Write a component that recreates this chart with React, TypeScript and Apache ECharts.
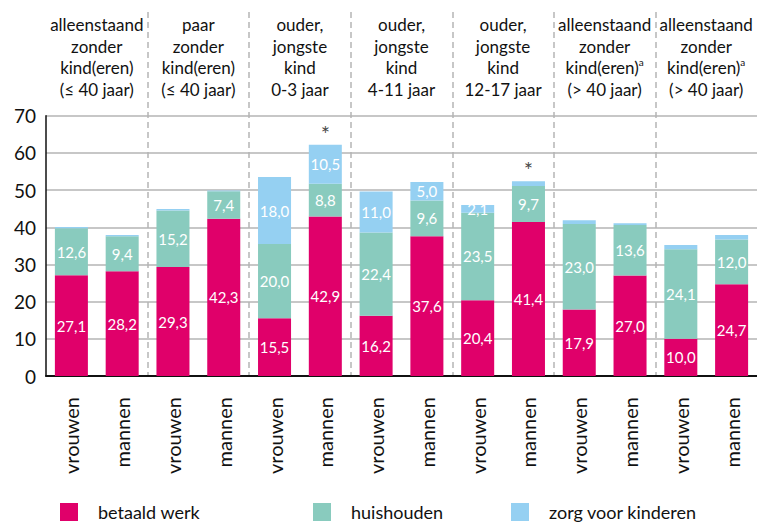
import React, { useEffect, useRef } from "react";
import * as echarts from "echarts";

const groupLabels = [
  "alleenstaand\nzonder\nkind(eren)\n(≤ 40 jaar)",
  "paar\nzonder\nkind(eren)\n(≤ 40 jaar)",
  "ouder,\njongste\nkind\n0-3 jaar",
  "ouder,\njongste\nkind\n4-11 jaar",
  "ouder,\njongste\nkind\n12-17 jaar",
  "alleenstaand\nzonder\nkind(eren)^a\n(> 40 jaar)",
  "alleenstaand\nzonder\nkind(eren)^a\n(> 40 jaar)",
];
const categories = [
  "vrouwen", "mannen", "vrouwen", "mannen", "vrouwen", "mannen", "vrouwen",
  "mannen", "vrouwen", "mannen", "vrouwen", "mannen", "vrouwen", "mannen",
];
const betaaldWerk = [27.1, 28.2, 29.3, 42.3, 15.5, 42.9, 16.2, 37.6, 20.4, 41.4, 17.9, 27.0, 10.0, 24.7];
const huishouden = [12.6, 9.4, 15.2, 7.4, 20.0, 8.8, 22.4, 9.6, 23.5, 9.7, 23.0, 13.6, 24.1, 12.0];
const zorgKinderen = [0.4, 0.3, 0.4, 0.2, 18.0, 10.5, 11.0, 5.0, 2.1, 1.3, 1.0, 0.5, 1.1, 1.2];
const significant = [false, false, false, false, false, true, false, false, false, true, false, false, false, false];
const yTicks = { min: 0, max: 70, interval: 10 };

const FONT = "Lato";
const fmt = (v: number) => v.toFixed(1).replace(".", ",");

export default function App() {
  const ref = useRef<HTMLDivElement>(null);
  useEffect(() => {
    if (!ref.current) return;
    const chart = echarts.init(ref.current, null, { renderer: "svg" });
    const totals = betaaldWerk.map((v, i) => v + huishouden[i] + zorgKinderen[i]);
    const barLabel = {
      show: true,
      position: "inside",
      color: "#ffffff",
      fontFamily: FONT,
      fontSize: 15,
      formatter: (p: any) => (p.value >= 2 ? fmt(p.value) : ""),
    };
    const legendBase = {
      top: 502,
      padding: 0,
      icon: "rect",
      itemWidth: 18,
      itemHeight: 18,
      textStyle: { fontFamily: FONT, fontSize: 18, lineHeight: 20, color: "#111", padding: [0, 0, 0, 15] },
      selectedMode: false,
    };
    chart.setOption({
      animation: false,
      backgroundColor: "#ffffff",
      textStyle: { fontFamily: FONT },
      legend: [
        { ...legendBase, left: 60, data: ["betaald werk"] },
        { ...legendBase, left: 313, data: ["huishouden"] },
        { ...legendBase, left: 511, data: ["zorg voor kinderen"] },
      ],
      grid: [
        { left: 46, right: 0, top: 115.7, bottom: 150 },
        { left: 46, right: 0, top: 12, bottom: 150 },
      ],
      xAxis: [
        {
          type: "category",
          gridIndex: 0,
          data: categories,
          axisLine: { show: true, lineStyle: { color: "#111", width: 2 } },
          axisTick: { show: false },
          axisLabel: {
            rotate: 90,
            margin: 21,
            fontSize: 20,
            color: "#111",
            fontFamily: FONT,
          },
          splitLine: { show: false },
        },
        {
          type: "category",
          gridIndex: 1,
          position: "top",
          data: groupLabels,
          axisLine: { show: false },
          axisTick: { show: false },
          axisLabel: {
            inside: true,
            margin: 2,
            fontSize: 17,
            lineHeight: 21.5,
            color: "#111",
            fontFamily: FONT,
            interval: 0,
            formatter: (v: string) => v.replace("^a", "{sup|a}"),
            rich: {
              sup: { fontSize: 10, fontFamily: FONT, color: "#111", verticalAlign: "top", lineHeight: 14 },
            },
          },
          splitLine: {
            show: true,
            showMinLine: false,
            showMaxLine: false,
            interval: 0,
            lineStyle: { color: "#b5b5b5", width: 1.5, type: [6, 4] },
          },
        },
      ],
      yAxis: [
        {
          type: "value",
          gridIndex: 0,
          min: yTicks.min,
          max: yTicks.max,
          interval: yTicks.interval,
          axisLine: { show: true, lineStyle: { color: "#111", width: 1.5 } },
          axisTick: { show: false },
          axisLabel: { fontSize: 19, color: "#111", fontFamily: FONT, margin: 10 },
          splitLine: { show: true, lineStyle: { color: "#b5b5b5", width: 1.5 } },
        },
        { type: "value", gridIndex: 1, show: false, min: 0, max: 1 },
      ],
      series: [
        {
          name: "betaald werk",
          type: "bar",
          stack: "t",
          barWidth: "65%",
          itemStyle: { color: "#e0006a" },
          label: barLabel,
          data: betaaldWerk,
        },
        {
          name: "huishouden",
          type: "bar",
          stack: "t",
          barWidth: "65%",
          itemStyle: { color: "#89cbbe" },
          label: barLabel,
          data: huishouden,
        },
        {
          name: "zorg voor kinderen",
          type: "bar",
          stack: "t",
          barWidth: "65%",
          itemStyle: { color: "#95d0f2" },
          label: barLabel,
          data: zorgKinderen,
        },
        {
          name: "sig",
          type: "scatter",
          symbolSize: 1,
          itemStyle: { color: "rgba(0,0,0,0)" },
          label: {
            show: true,
            position: "top",
            distance: 0,
            formatter: "*",
            fontSize: 22,
            color: "#111",
            fontFamily: FONT,
          },
          data: totals.map((t, i) => (significant[i] ? t : "-")),
          z: 5,
        },
      ],
    });
    return () => chart.dispose();
  }, []);
  return (
    <div style={{ position: "fixed", left: 0, top: 0, width: 757, height: 526, background: "#fff" }}>
      <div ref={ref} style={{ width: 757, height: 526 }} />
    </div>
  );
}
